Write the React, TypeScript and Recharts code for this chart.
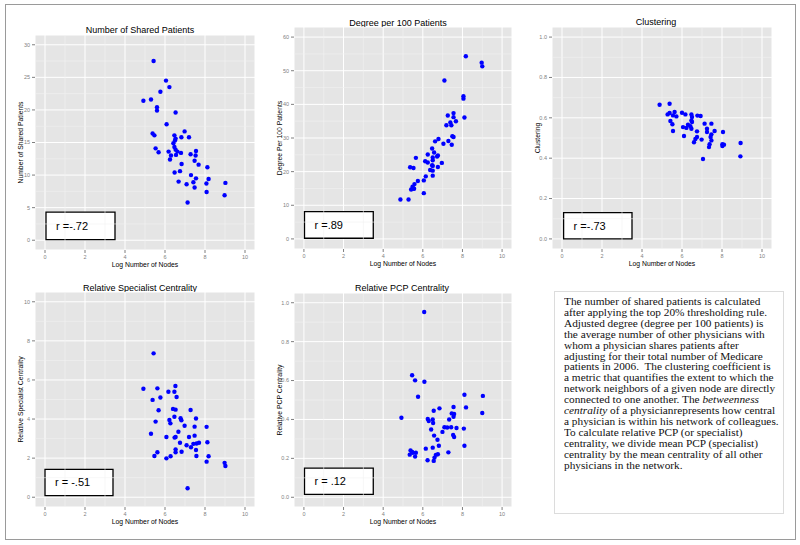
import { ScatterChart, Scatter, XAxis, YAxis, CartesianGrid, ReferenceLine, ReferenceArea } from 'recharts';

const xTicks = [0, 2, 4, 6, 8, 10];
const xMinor = [1, 3, 5, 7, 9];

const sharedX = [5.43, 6.05, 6.22, 5.77, 4.92, 5.3, 5.6, 5.6, 6.53, 6.08, 6.98, 5.38, 5.47, 6.47, 6.53, 6.82, 7.2, 6.42, 6.5, 5.53, 6.47, 6.53, 5.68, 6.18, 6.62, 6.8, 6.3, 6.55, 7.28, 7.55, 7.53, 6.25, 7.48, 7.68, 6.83, 8.12, 6.75, 6.48, 7.3, 7.55, 8.18, 6.68, 7.42, 7.08, 8.07, 9.02, 7.48, 8.08, 8.98, 7.13];
const sharedY = [27.5, 24.5, 23.5, 22.8, 21.4, 21.6, 20.4, 19.9, 19.6, 17.8, 16.7, 16.4, 16.1, 16.1, 15.6, 15.8, 15.8, 14.9, 15.3, 14.1, 14.3, 13.9, 13.5, 13.6, 13.6, 13.4, 13.0, 13.1, 13.2, 13.7, 13.0, 12.4, 12.2, 11.6, 11.7, 11.2, 10.6, 10.4, 10.0, 9.5, 9.4, 9.0, 8.9, 8.6, 8.7, 8.8, 8.1, 7.4, 6.9, 5.8];

const degreeX = [8.17, 8.97, 9.0, 7.09, 8.05, 8.05, 8.1, 7.55, 7.55, 7.67, 7.26, 7.39, 7.19, 7.44, 7.49, 7.55, 6.79, 6.62, 7.29, 7.04, 7.46, 6.47, 6.57, 6.25, 5.65, 6.5, 6.72, 6.76, 6.5, 6.12, 6.25, 6.96, 6.47, 6.76, 5.36, 5.53, 6.5, 6.37, 6.5, 6.15, 6.5, 6.05, 5.75, 5.58, 5.48, 5.53, 5.41, 5.56, 6.05, 4.87, 5.28];
const degreeY = [54.3, 52.4, 51.3, 47.1, 42.4, 41.7, 36.1, 37.4, 36.2, 35.0, 36.7, 34.6, 33.8, 33.8, 30.5, 30.3, 29.7, 29.0, 29.1, 28.3, 28.0, 26.9, 25.7, 25.1, 24.1, 24.2, 24.5, 24.8, 23.4, 23.1, 22.7, 22.6, 21.9, 21.4, 21.3, 21.1, 21.7, 20.5, 20.3, 18.6, 18.8, 17.4, 17.2, 16.3, 15.5, 15.0, 14.7, 14.9, 13.6, 11.7, 11.7];

const clusterX = [4.88, 5.38, 5.63, 5.28, 5.38, 5.55, 5.72, 5.42, 5.52, 5.55, 6.0, 6.17, 6.47, 6.5, 6.77, 6.93, 6.47, 6.5, 6.3, 6.42, 6.05, 6.22, 6.47, 7.13, 7.47, 7.25, 7.25, 7.63, 6.75, 6.1, 7.47, 7.43, 7.47, 6.75, 6.67, 6.98, 6.6, 7.38, 7.35, 8.05, 8.02, 8.1, 8.02, 8.93, 8.92, 7.05];
const clusterY = [0.665, 0.67, 0.629, 0.617, 0.624, 0.612, 0.607, 0.584, 0.568, 0.535, 0.625, 0.617, 0.617, 0.604, 0.611, 0.609, 0.587, 0.579, 0.566, 0.558, 0.554, 0.55, 0.546, 0.571, 0.571, 0.546, 0.53, 0.535, 0.533, 0.51, 0.518, 0.505, 0.488, 0.505, 0.495, 0.492, 0.479, 0.469, 0.455, 0.53, 0.469, 0.467, 0.46, 0.475, 0.409, 0.396];

const specX = [5.43, 4.92, 5.62, 6.52, 6.47, 6.17, 6.58, 5.77, 5.38, 5.68, 6.4, 6.53, 7.28, 6.47, 6.22, 6.78, 6.82, 7.55, 5.53, 6.27, 6.98, 7.48, 8.08, 6.67, 5.3, 6.53, 6.07, 6.48, 7.2, 7.48, 6.75, 7.42, 7.58, 7.7, 8.12, 7.08, 7.3, 7.55, 6.53, 5.62, 6.53, 6.83, 5.47, 6.28, 7.57, 8.18, 6.07, 8.08, 8.98, 9.02, 7.13];
const specY = [7.36, 5.55, 5.57, 5.69, 5.4, 5.4, 5.13, 5.1, 4.98, 4.45, 4.52, 4.48, 4.46, 4.12, 3.95, 4.04, 3.94, 4.03, 3.87, 3.78, 3.66, 3.61, 3.6, 3.35, 3.25, 3.08, 3.08, 3.05, 3.08, 3.15, 2.79, 2.73, 2.75, 2.79, 2.81, 2.66, 2.56, 2.42, 2.45, 2.3, 2.3, 2.33, 2.11, 2.1, 2.11, 2.1, 1.99, 1.82, 1.76, 1.6, 0.46];

const pcpX = [6.07, 5.46, 5.61, 6.08, 5.76, 8.1, 9.03, 7.55, 8.18, 6.84, 6.55, 9.0, 7.46, 7.58, 7.55, 4.92, 6.25, 6.5, 6.3, 6.52, 7.33, 7.09, 7.23, 7.43, 7.7, 8.07, 6.42, 6.99, 7.53, 7.58, 6.57, 6.74, 8.1, 6.81, 6.5, 6.15, 7.29, 5.38, 5.46, 5.65, 5.5, 5.34, 5.61, 6.76, 6.66, 6.59, 6.24, 6.55];
const pcpY = [0.952, 0.627, 0.601, 0.594, 0.517, 0.527, 0.521, 0.464, 0.462, 0.457, 0.445, 0.433, 0.431, 0.428, 0.414, 0.409, 0.402, 0.4, 0.392, 0.382, 0.4, 0.36, 0.359, 0.36, 0.356, 0.353, 0.348, 0.336, 0.32, 0.31, 0.317, 0.296, 0.265, 0.265, 0.255, 0.25, 0.231, 0.241, 0.233, 0.229, 0.229, 0.219, 0.209, 0.221, 0.218, 0.204, 0.19, 0.187];

const sharedTicks = [0, 5, 10, 15, 20, 25, 30];
const sharedMinor = [2.5, 7.5, 12.5, 17.5, 22.5, 27.5];
const degreeTicks = [0, 10, 20, 30, 40, 50, 60];
const degreeMinor = [5, 15, 25, 35, 45, 55];
const unitTicks = [0, 0.2, 0.4, 0.6, 0.8, 1.0];
const unitMinor = [0.1, 0.3, 0.5, 0.7, 0.9];
const specTicks = [0, 2, 4, 6, 8, 10];
const specMinor = [1, 3, 5, 7, 9];

const FONT = '"Liberation Sans", Arial, Helvetica, sans-serif';

function Panel({ plot, title, titlePos, xs, ys, yDomain, yTicks, yMinor, yLabel, yFmt, rBox, rText }) {
  const data = xs.map((x, i) => ({ x, y: ys[i] }));
  const [pl, pt, pw, ph] = plot;
  const yw = 40;
  const xh = 30;
  const tickStyle = { fontSize: 5.5, fill: '#7f7f7f', fontFamily: FONT };
  return (
    <>
      <div style={{ position: 'absolute', left: titlePos[0] - 100, top: titlePos[1] - 6, width: 200, textAlign: 'center', fontFamily: FONT, fontSize: 9, lineHeight: '12px', color: '#000' }}>
        {title}
      </div>
      <div style={{ position: 'absolute', left: pl - yw, top: pt }}>
        <ScatterChart width={pw + yw + 2} height={ph + xh} margin={{ top: 0, right: 2, bottom: 0, left: 0 }}>
          <CartesianGrid fill="#e5e5e5" stroke="#ffffff" strokeWidth={1} />
          {xMinor.map((v) => (
            <ReferenceLine key={'mx' + v} x={v} stroke="#f2f2f2" strokeWidth={0.6} />
          ))}
          {yMinor.map((v) => (
            <ReferenceLine key={'my' + v} y={v} stroke="#f2f2f2" strokeWidth={0.6} />
          ))}
          <XAxis
            type="number"
            dataKey="x"
            domain={[-0.5, 10.5]}
            ticks={xTicks}
            height={xh}
            axisLine={false}
            tickSize={3}
            tickMargin={2}
            tickLine={{ stroke: '#7f7f7f' }}
            tick={tickStyle}
            label={{ value: 'Log Number of Nodes', position: 'insideBottom', offset: 13, fontSize: 6.8, fill: '#000', fontFamily: FONT }}
          />
          <YAxis
            type="number"
            dataKey="y"
            domain={yDomain}
            ticks={yTicks}
            width={yw}
            axisLine={false}
            tickSize={3}
            tickMargin={2}
            tickLine={{ stroke: '#7f7f7f' }}
            tick={tickStyle}
            tickFormatter={yFmt}
            label={{ value: yLabel, angle: -90, position: 'insideLeft', offset: 26, fontSize: 6.8, fill: '#000', fontFamily: FONT, style: { textAnchor: 'middle' } }}
          />
          <ReferenceArea
            x1={rBox[0]}
            x2={rBox[1]}
            y1={rBox[2]}
            y2={rBox[3]}
            fill="#ffffff"
            fillOpacity={1}
            stroke="#000"
            strokeWidth={1.3}
            label={{ value: rText, position: 'insideLeft', offset: 10, fontSize: 11, fill: '#000', fontFamily: FONT }}
          />
          <Scatter
            data={data}
            isAnimationActive={false}
            fill="#0000ff"
            shape={(p) => <circle cx={p.cx} cy={p.cy} r={2.2} fill="#0000ff" />}
          />
        </ScatterChart>
      </div>
    </>
  );
}

const oneDec = (v) => v.toFixed(1);

export default function App() {
  return (
    <div style={{ position: 'absolute', left: 0, top: 0, width: 800, height: 545, background: '#fff', fontFamily: FONT }}>
      <div style={{ position: 'absolute', left: 5, top: 4, width: 789, height: 534, border: '1px solid #9a9a9a' }} />
      <Panel
        plot={[35, 35, 220, 215]}
        title="Number of Shared Patients"
        titlePos={[140, 30]}
        xs={sharedX}
        ys={sharedY}
        yDomain={[-1.5, 31.5]}
        yTicks={sharedTicks}
        yMinor={sharedMinor}
        yLabel="Number of Shared Patients"
        rBox={[0.05, 3.5, 0.1, 4.3]}
        rText="r =-.72"
      />
      <Panel
        plot={[294, 27, 218, 222]}
        title="Degree per 100 Patients"
        titlePos={[398, 23]}
        xs={degreeX}
        ys={degreeY}
        yDomain={[-3, 63]}
        yTicks={degreeTicks}
        yMinor={degreeMinor}
        yLabel="Degree Per 100 Patients"
        rBox={[0.03, 3.5, 0.2, 8.1]}
        rText="r =.89"
      />
      <Panel
        plot={[552, 27, 220, 222]}
        title="Clustering"
        titlePos={[656, 22]}
        xs={clusterX}
        ys={clusterY}
        yDomain={[-0.05, 1.05]}
        yTicks={unitTicks}
        yMinor={unitMinor}
        yLabel="Clustering"
        yFmt={oneDec}
        rBox={[0.08, 3.5, 0.0, 0.13]}
        rText="r =-.73"
      />
      <Panel
        plot={[35, 292, 220, 215]}
        title="Relative Specialist Centrality"
        titlePos={[140, 288]}
        xs={specX}
        ys={specY}
        yDomain={[-0.5, 10.5]}
        yTicks={specTicks}
        yMinor={specMinor}
        yLabel="Relative Specialist Centrality"
        rBox={[0.0, 3.4, 0.08, 1.43]}
        rText="r = -.51"
      />
      <Panel
        plot={[294, 293, 218, 214]}
        title="Relative PCP Centrality"
        titlePos={[402, 288]}
        xs={pcpX}
        ys={pcpY}
        yDomain={[-0.05, 1.05]}
        yTicks={unitTicks}
        yMinor={unitMinor}
        yLabel="Relative PCP Centrality"
        yFmt={oneDec}
        rBox={[0.03, 3.5, 0.015, 0.15]}
        rText="r = .12"
      />
      <div style={{ position: 'absolute', left: 554, top: 291, width: 228, height: 221, border: '1px solid #dcdcdc' }} />
      <div
        style={{
          position: 'absolute',
          left: 564,
          top: 296,
          fontFamily: '"Liberation Serif", "Times New Roman", serif',
          fontSize: 11.3,
          lineHeight: '12.9px',
          color: '#111',
          whiteSpace: 'nowrap',
          transform: 'scaleY(0.85)',
          transformOrigin: '0 0',
        }}
      >
        The number of shared patients is calculated<br />
        after applying the top 20% thresholding rule.<br />
        Adjusted degree (degree per 100 patients) is<br />
        the average number of other physicians with<br />
        whom a physician shares patients after<br />
        adjusting for their total number of Medicare<br />
        patients in 2006.&nbsp; The clustering coefficient is<br />
        a metric that quantifies the extent to which the<br />
        network neighbors of a given node are directly<br />
        connected to one another. The <i>betweenness</i><br />
        <i>centrality</i> of a physicianrepresents how central<br />
        a physician is within his network of colleagues.<br />
        To calculate relative PCP (or specialist)<br />
        centrality, we divide mean PCP (specialist)<br />
        centrality by the mean centrality of all other<br />
        physicians in the network.
      </div>
    </div>
  );
}
